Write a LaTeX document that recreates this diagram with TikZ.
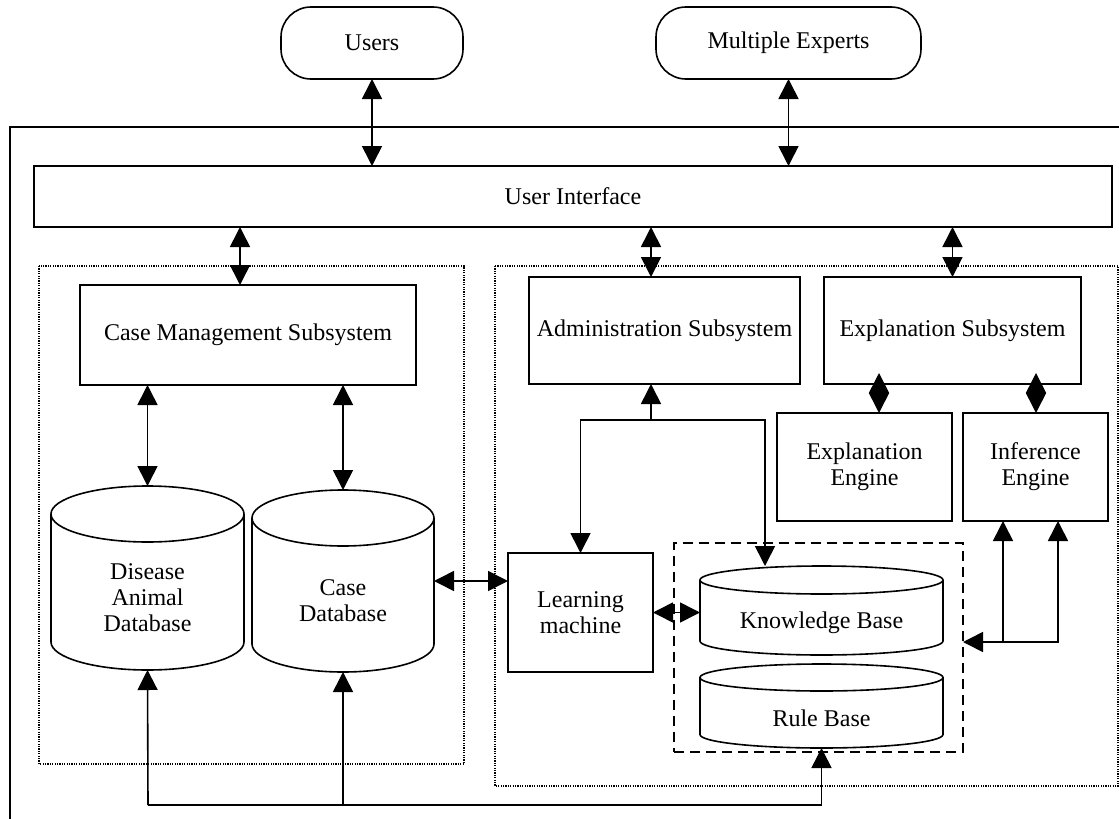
\documentclass[tikz,border=0pt]{standalone}
\usepackage{fontspec}
\setmainfont{Liberation Serif}
\usetikzlibrary{arrows.meta,shapes.geometric}
% drum: name, centre, width, height, cap depth
\providecommand{\drum}[5]{%
  \node[drumbody,minimum width=#3,minimum height=#4] (#1) at #2 {};
  \draw[drumline] ([yshift=-#5]#1.north) ellipse [x radius=#3/2, y radius=#5];
  \draw[drumline] ([yshift=-#5]#1.north west) -- ([yshift=#5]#1.south west)
    arc[start angle=180, end angle=360, x radius=#3/2, y radius=#5]
    -- ([yshift=-#5]#1.north east);}

\begin{document}
\begin{tikzpicture}[x=0.5pt,y=-0.5pt,
  box/.style={draw,line width=0.8pt,inner sep=0pt,outer sep=0pt,align=center,
    font=\fontsize{12}{13}\selectfont},
  actor/.style={box,rounded corners=15pt},
  drumbody/.style={inner sep=0pt,outer sep=0pt},
  drumline/.style={line width=0.8pt},
  drumtext/.style={align=center,font=\fontsize{12}{13}\selectfont},
  dotframe/.style={line width=0.6pt,dash pattern=on 0.6pt off 0.6pt},
  dashframe/.style={draw,line width=0.8pt,dash pattern=on 5pt off 3pt,inner sep=0pt,outer sep=0pt},
  wire/.style={line width=0.8pt},
  tip/.style={wire,-{Triangle[length=10pt,width=10pt]}},
  both/.style={wire,{Triangle[length=10pt,width=10pt]}-{Triangle[length=10pt,width=10pt]}}]
\useasboundingbox (0,0) rectangle (1119,819);
\clip (0,0) rectangle (1119,819);
% Outer frame
\draw[wire] (10,830) -- (10,127) -- (1130,127);
% Actors
\node[actor,minimum width=91pt,minimum height=36pt] (users) at (372,43) {Users};
\node[actor,minimum width=132.5pt,minimum height=36pt] (experts) at (788.5,43) {Multiple Experts};
\node[box,minimum width=539pt,minimum height=30.5pt] (ui) at (573,196.5) {User Interface};
% Subsystem frames
\draw[dotframe] (39,266) rectangle (464,764);
\draw[dotframe] (495,266) rectangle (1118,786);
% Left part: case management
\node[box,minimum width=168pt,minimum height=50pt] (cms) at (248,335) {Case Management Subsystem};
\drum{dad}{(147.5,578)}{96.5pt}{92pt}{14pt}
\node[drumtext] (dad-t) at ([yshift=-10pt]dad.center) {Disease\\Animal\\Database};
\drum{cdb}{(343,581)}{91pt}{91pt}{14pt}
\node[drumtext] (cdb-t) at ([yshift=-10pt]cdb.center) {Case\\Database};
% Right part: administration and explanation
\node[box,minimum width=135.5pt,minimum height=53.5pt] (admin) at (664.5,330.5) {Administration Subsystem};
\node[box,minimum width=128.5pt,minimum height=53.5pt] (expsub) at (952.5,330.5) {Explanation Subsystem};
\node[box,minimum width=87.5pt,minimum height=54pt] (expeng) at (864.5,467) {Explanation\\Engine};
\node[box,minimum width=72.5pt,minimum height=54pt] (infeng) at (1035.5,467) {Inference\\Engine};
\node[box,minimum width=72.5pt,minimum height=59.5pt] (learn) at (580.5,612.5) {Learning\\machine};
% Knowledge group
\node[dashframe,minimum width=144.5pt,minimum height=104.5pt] (kbgrp) at (818.5,647.5) {};
\drum{kb}{(821.5,610.5)}{121.5pt}{44.5pt}{7pt}
\node[drumtext] (kb-t) at ([yshift=-6pt]kb.center) {Knowledge Base};
\drum{rb}{(821.5,706)}{121.5pt}{42pt}{6.75pt}
\node[drumtext] (rb-t) at ([yshift=-6pt]rb.center) {Rule Base};
% Done with boxes; drawing connectors
\coordinate (cmsin) at (240,285);
\coordinate (admin-in) at (651,277);
\coordinate (adj) at (651,420);
\coordinate (kbin) at (765,566);
\coordinate (ifa) at (1003,642);
\coordinate (ifb) at (1058,642);
\coordinate (bus) at (148,805);
\draw[both] (users.south) -- (users.south |- ui.north);
\draw[both] (experts.south) -- (experts.south |- ui.north);
\draw[both] (cmsin |- ui.south) -- (cmsin);
\draw[both] (admin-in |- ui.south) -- (admin-in);
\draw[both] (ui.south -| expsub.north) -- (expsub.north);
\draw[both] (cms.south -| dad.north) -- (dad.north);
\draw[both] (cms.south -| cdb.north) -- (cdb.north);
\draw[both] (cdb.east) -- (cdb.east -| learn.west);
\draw[both] (learn.east) -- (learn.east -| kb.west);
% Learning feed
\draw[tip] (adj) -- (adj |- admin.south);
\draw[tip] (adj) -| (learn.north);
\draw[tip] (adj) -| (kbin);
% Diamond links
\draw[both] ([xshift=7.25pt]expeng.north) -- ++(0,-40);
\draw[both] ([xshift=0.25pt]infeng.north) -- ++(0,-40);
% Inference feed
\draw[tip] (ifa) -- (ifa |- infeng.south);
\draw[both] (ifb -| kbgrp.east) -| (ifb |- infeng.south);
% Bottom bus
\draw[tip] (bus) -- (dad.south);
\draw[tip] (bus -| cdb.south) -- (cdb.south);
\draw[tip] (bus) -| (rb.south);
\end{tikzpicture}
\end{document}
